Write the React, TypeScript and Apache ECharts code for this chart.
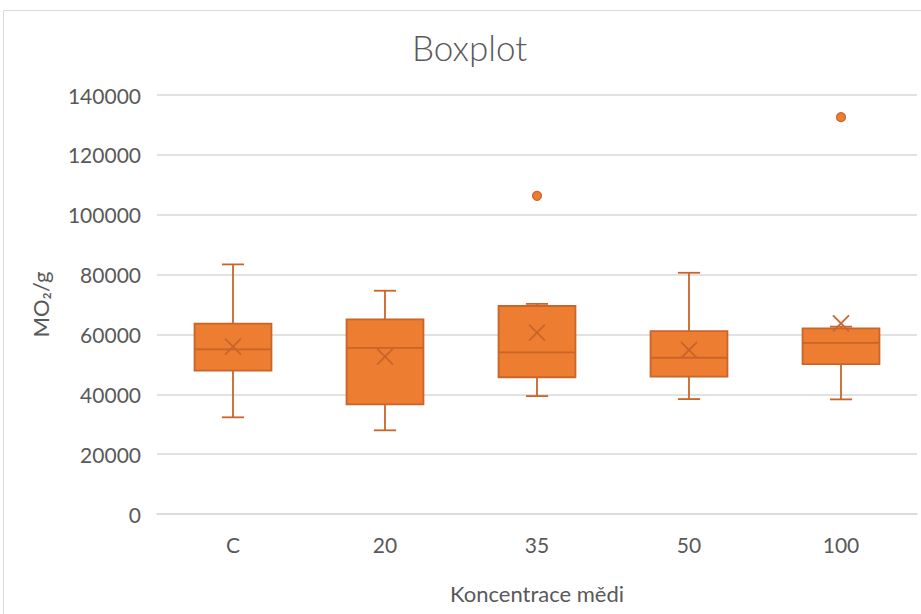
import React, { useEffect, useRef } from "react";
import * as echarts from "echarts";

const categories = ["C", "20", "35", "50", "100"];
const whiskerLow = [32300, 27960, 39400, 38400, 38300];
const q1 = [47900, 36650, 45700, 45900, 50100];
const median = [55000, 55500, 54000, 52200, 57200];
const q3 = [63600, 65000, 69500, 61100, 62000];
const whiskerHigh = [83400, 74600, 70200, 80600, 62600];
const means = [55900, 52600, 60600, 54800, 63700];
const outlierCat = [2, 4];
const outlierVal = [106300, 132600];

const FILL = "#ED7D31";
const STROKE = "#C9652B";
const FONT = "Lato";
const TXT = "#595959";

export default function App() {
  const ref = useRef<HTMLDivElement>(null);
  useEffect(() => {
    const chart = echarts.init(ref.current!, null, { renderer: "svg" });
    const boxData = categories.map((_, i) => [i, whiskerLow[i], q1[i], median[i], q3[i], whiskerHigh[i], means[i]]);
    chart.setOption({
      animation: false,
      backgroundColor: "#ffffff",
      title: {
        text: "Boxplot",
        left: 407,
        top: 24,
        textStyle: { fontFamily: FONT, fontSize: 35, fontWeight: 300, color: TXT },
      },
      graphic: [
        {
          type: "rect",
          shape: { x: 3.5, y: 10.5, width: 940, height: 640 },
          style: { fill: "none", stroke: "#D9D9D9", lineWidth: 1 },
          silent: true,
        },
      ],
      grid: { left: 157, right: 4, top: 95, bottom: 100 },
      xAxis: {
        type: "category",
        data: categories,
        boundaryGap: true,
        axisLine: { lineStyle: { color: "#D9D9D9", width: 1.5 } },
        axisTick: { show: false },
        axisLabel: { fontFamily: FONT, fontSize: 21, color: TXT, margin: 20 },
        name: "Koncentrace mědi",
        nameLocation: "middle",
        nameGap: 68,
        nameTextStyle: { fontFamily: FONT, fontSize: 22, color: TXT },
      },
      yAxis: {
        type: "value",
        min: 0,
        max: 140000,
        interval: 20000,
        axisLine: { show: false },
        axisTick: { show: false },
        splitLine: { lineStyle: { color: "#D9D9D9", width: 1.5 } },
        axisLabel: {
          fontFamily: FONT,
          fontSize: 21,
          color: TXT,
          margin: 16,
          formatter: (v: number) => String(v),
        },
        name: "MO₂/g",
        nameLocation: "middle",
        nameGap: 106,
        nameTextStyle: { fontFamily: FONT, fontSize: 22, color: TXT },
      },
      series: [
        {
          type: "custom",
          data: boxData,
          encode: { x: 0, y: [1, 2, 3, 4, 5, 6] },
          renderItem: (params: any, api: any) => {
            const idx = api.value(0);
            const pLow = api.coord([idx, api.value(1)]);
            const pQ1 = api.coord([idx, api.value(2)]);
            const pMed = api.coord([idx, api.value(3)]);
            const pQ3 = api.coord([idx, api.value(4)]);
            const pHigh = api.coord([idx, api.value(5)]);
            const pMean = api.coord([idx, api.value(6)]);
            const band = api.size([1, 0])[0];
            const x = pMed[0];
            const bw = band * 0.506;
            const cw = band * 0.146;
            const ms = 8;
            const ls = { stroke: STROKE, lineWidth: 1.8 };
            return {
              type: "group",
              children: [
                { type: "line", shape: { x1: x, y1: pQ3[1], x2: x, y2: pHigh[1] }, style: ls },
                { type: "line", shape: { x1: x, y1: pQ1[1], x2: x, y2: pLow[1] }, style: ls },
                { type: "line", shape: { x1: x - cw / 2, y1: pHigh[1], x2: x + cw / 2, y2: pHigh[1] }, style: ls },
                { type: "line", shape: { x1: x - cw / 2, y1: pLow[1], x2: x + cw / 2, y2: pLow[1] }, style: ls },
                {
                  type: "rect",
                  shape: { x: x - bw / 2, y: pQ3[1], width: bw, height: pQ1[1] - pQ3[1] },
                  style: { fill: FILL, stroke: STROKE, lineWidth: 1.8 },
                },
                { type: "line", shape: { x1: x - bw / 2, y1: pMed[1], x2: x + bw / 2, y2: pMed[1] }, style: ls },
                { type: "line", shape: { x1: x - ms, y1: pMean[1] - ms, x2: x + ms, y2: pMean[1] + ms }, style: ls },
                { type: "line", shape: { x1: x - ms, y1: pMean[1] + ms, x2: x + ms, y2: pMean[1] - ms }, style: ls },
              ],
            };
          },
          z: 2,
        },
        {
          type: "scatter",
          data: outlierCat.map((c, i) => [c, outlierVal[i]]),
          symbol: "circle",
          symbolSize: 9,
          itemStyle: { color: FILL, borderColor: STROKE, borderWidth: 1.2, opacity: 1 },
          z: 3,
        },
      ],
    });
    return () => chart.dispose();
  }, []);
  return (
    <div
      ref={ref}
      style={{ position: "fixed", left: 0, top: 0, width: 921, height: 614 }}
    />
  );
}
